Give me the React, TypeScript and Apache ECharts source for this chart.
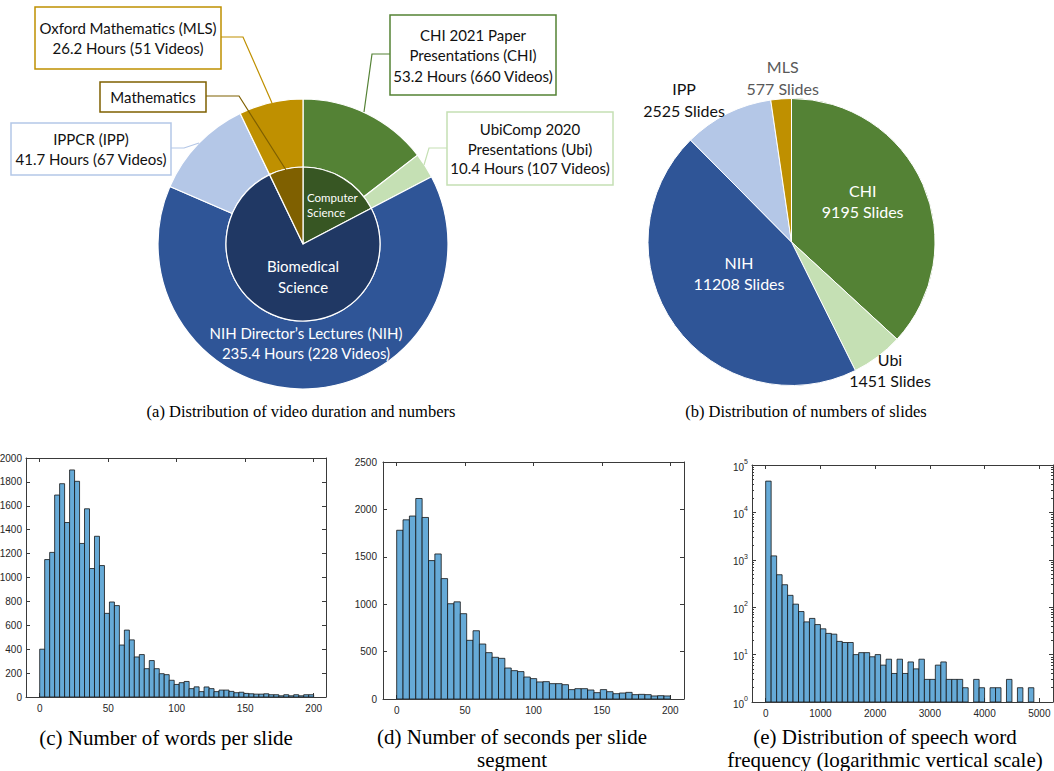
import React, { useEffect, useRef } from "react";
import * as echarts from "echarts";

// ---------- data ----------
const sourceNames = ["CHI", "Ubi", "NIH", "IPP", "MLS"];
const sourceHours = [53.2, 10.4, 235.4, 41.7, 26.2];
const sourceVideos = [660, 107, 228, 67, 51];
const sourceTitles = [
  "CHI 2021 Paper\nPresentations (CHI)",
  "UbiComp 2020\nPresentations (Ubi)",
  "NIH Director\u2019s Lectures (NIH)",
  "IPPCR (IPP)",
  "Oxford Mathematics (MLS)",
];
const sourceColors = ["#548235", "#C5E0B4", "#2F5597", "#B4C7E7", "#BF9000"];

const fieldNames = ["Computer\nScience", "Biomedical\nScience", "Mathematics"];
const fieldMembers = [["CHI", "Ubi"], ["NIH", "IPP"], ["MLS"]];
const fieldColors = ["#375623", "#203864", "#7F6000"];

const slideNames = ["CHI", "Ubi", "NIH", "IPP", "MLS"];
const slideCounts = [9195, 1451, 11208, 2525, 577];

const wordCounts = [
  400, 1150, 1210, 1690, 1785, 1460, 1900, 1805, 1285, 1575, 1075, 1345, 1100, 700, 795,
  765, 435, 560, 478, 335, 355, 237, 305, 237, 195, 187, 140, 105, 120, 130, 70, 85, 45,
  84, 70, 45, 58, 58, 47, 36, 40, 30, 27, 24, 24, 27, 19, 19, 10, 19, 10, 19, 10, 19, 19,
];
const wordBinWidth = 200 / 55;

const secondCounts = [
  1780, 1890, 1930, 2115, 1915, 1460, 1530, 1270, 1005, 1025, 900, 619, 720, 580, 489, 440,
  429, 327, 299, 289, 232, 215, 180, 183, 162, 162, 151, 99, 109, 109, 95, 67, 99, 77, 56,
  63, 70, 46, 49, 46, 32, 35, 32,
];
const secondBinWidth = 200 / 43;

const freqCounts = [
  45700, 1210, 484, 298, 178, 116, 81, 49, 58, 43, 35, 28, 27, 19, 18, 18, 10, 11, 11, 9,
  10, 6, 8, 4, 8, 4, 7, 5, 8, 3, 3, 6, 7, 3, 3, 3, 2, 0, 3, 2, 0, 2, 2, 0, 3, 0, 2, 0, 2,
];
const freqBinWidth = 100;

const histXTicks = [0, 50, 100, 150, 200];
const freqXTicks = [0, 1000, 2000, 3000, 4000, 5000];
const freqMinorTicks = [
  2, 3, 4, 5, 6, 7, 8, 9, 20, 30, 40, 50, 60, 70, 80, 90, 200, 300, 400, 500, 600, 700, 800,
  900, 2000, 3000, 4000, 5000, 6000, 7000, 8000, 9000, 20000, 30000, 40000, 50000, 60000,
  70000, 80000, 90000,
];

const captions = [
  "(a) Distribution of video duration and numbers",
  "(b) Distribution of numbers of slides",
  "(c) Number of words per slide",
  "(d) Number of seconds per slide\nsegment",
  "(e) Distribution of speech word\nfrequency (logarithmic vertical scale)",
];

// ---------- styles ----------
const CAL = 'Lato, "Open Sans", sans-serif';
const SANS = '"Liberation Sans", Arial, sans-serif';
const SERIF = '"Liberation Serif", "Times New Roman", serif';
const axisColor = "#3a3a3a";
const barFill = "#66AAD7";
const plain = (v: number) => String(v);

function xAx(grid: number, min: number, max: number, ticks: number[], pos: string, showLabel: boolean) {
  return {
    type: "value",
    gridIndex: grid,
    position: pos,
    min,
    max,
    splitLine: { show: false },
    axisLine: { show: true, onZero: false, lineStyle: { color: axisColor, width: 1 } },
    axisTick: { show: true, inside: true, length: 4, customValues: ticks, lineStyle: { color: axisColor } },
    axisLabel: {
      show: showLabel,
      customValues: ticks,
      formatter: plain,
      margin: 6,
      color: "#262626",
      fontSize: 10,
      fontFamily: SANS,
    },
  };
}

function yAx(grid: number, min: number, max: number, interval: number, pos: string, showLabel: boolean, margin: number) {
  return {
    type: "value",
    gridIndex: grid,
    position: pos,
    min,
    max,
    interval,
    splitLine: { show: false },
    axisLine: { show: true, onZero: false, lineStyle: { color: axisColor, width: 1 } },
    axisTick: { show: true, inside: true, length: 4, lineStyle: { color: axisColor } },
    axisLabel: { show: showLabel, formatter: plain, margin, color: "#262626", fontSize: 10, fontFamily: SANS },
  };
}

function logAx(pos: string, showLabel: boolean) {
  return {
    type: "log",
    logBase: 10,
    gridIndex: 2,
    position: pos,
    min: 1,
    max: 100000,
    splitLine: { show: false },
    axisLine: { show: true, onZero: false, lineStyle: { color: axisColor, width: 1 } },
    axisTick: { show: true, inside: true, length: 4, lineStyle: { color: axisColor } },
    axisLabel: {
      show: showLabel,
      margin: 4,
      formatter: (v: number) => `{b|10}{s|${Math.round(Math.log10(v))}}`,
      rich: {
        b: { fontSize: 10, fontFamily: SANS, color: "#262626", lineHeight: 14, verticalAlign: "bottom" },
        s: { fontSize: 7, fontFamily: SANS, color: "#262626", lineHeight: 14, verticalAlign: "top" },
      },
    },
  };
}

// minor ticks of the log axis, drawn on a linear exponent axis (0..5 decades)
function logMinorAx(pos: string) {
  return {
    type: "value",
    gridIndex: 2,
    position: pos,
    min: 0,
    max: 5,
    splitLine: { show: false },
    axisLine: { show: false, onZero: false },
    axisTick: {
      show: true,
      inside: true,
      length: 2,
      customValues: freqMinorTicks.map((v) => Math.log10(v)),
      lineStyle: { color: axisColor },
    },
    axisLabel: { show: false },
  };
}

function hist(counts: number[], width: number, idx: number, base: number) {
  return {
    type: "custom",
    xAxisIndex: idx,
    yAxisIndex: idx,
    silent: true,
    clip: true,
    data: counts.map((c, i) => [i * width, (i + 1) * width, c]),
    encode: { x: [0, 1], y: 2 },
    renderItem: (_params: any, api: any) => {
      const v = api.value(2);
      if (!(v > 0)) return { type: "group", children: [] };
      const a = api.coord([api.value(0), v]);
      const b = api.coord([api.value(1), base]);
      return {
        type: "rect",
        shape: { x: a[0], y: a[1], width: b[0] - a[0], height: b[1] - a[1] },
        style: { fill: barFill, stroke: "#141414", lineWidth: 0.8 },
      };
    },
  };
}

function txt(text: string, x: number, y: number, size: number, lh: number, fill: string, family = CAL, align = "center") {
  return {
    type: "text",
    x,
    y,
    z: 100,
    silent: true,
    style: {
      text,
      fill,
      fontSize: size,
      fontFamily: family,
      lineHeight: lh,
      align,
      textAlign: align,
      verticalAlign: "middle",
      textVerticalAlign: "middle",
    },
  };
}

function callout(i: number, box: number[], line: number[][], lh: number) {
  const text = `${sourceTitles[i]}\n${sourceHours[i]} Hours (${sourceVideos[i]} Videos)`;
  return [
    {
      type: "polyline",
      z: 90,
      silent: true,
      shape: { points: line },
      style: { stroke: sourceColors[i], lineWidth: 1.2, fill: null },
    },
    {
      type: "rect",
      z: 95,
      silent: true,
      shape: { x: box[0], y: box[1], width: box[2], height: box[3] },
      style: { fill: "#fff", stroke: sourceColors[i], lineWidth: 1.5 },
    },
    txt(text, box[0] + box[2] / 2, box[1] + box[3] / 2, 15, lh, "#111"),
  ];
}

export default function App() {
  const ref = useRef<HTMLDivElement>(null);
  useEffect(() => {
    document.body.style.margin = "0";
    if (!ref.current) return;
    const chart = echarts.init(ref.current, null, { renderer: "svg" });

    const outerData = sourceNames.map((n, i) => ({
      name: n,
      value: sourceHours[i],
      itemStyle: { color: sourceColors[i] },
    }));
    const innerData = fieldNames.map((n, i) => ({
      name: n,
      value: fieldMembers[i].reduce((s, m) => s + sourceHours[sourceNames.indexOf(m)], 0),
      itemStyle: { color: fieldColors[i] },
    }));
    const slideData = slideNames.map((n, i) => ({
      name: n,
      value: slideCounts[i],
      itemStyle: { color: sourceColors[sourceNames.indexOf(n)] },
    }));

    const slideLabel = (n: string) => `${n}\n${slideCounts[slideNames.indexOf(n)]} Slides`;
    const nihIdx = sourceNames.indexOf("NIH");
    const mathIdx = fieldNames.indexOf("Mathematics");

    const option: any = {
      animation: false,
      grid: [
        { left: 26, top: 458, width: 300, height: 239, outerBoundsMode: "none", containLabel: false },
        { left: 383, top: 462, width: 301, height: 237, outerBoundsMode: "none", containLabel: false },
        { left: 752, top: 465, width: 301, height: 237, outerBoundsMode: "none", containLabel: false },
      ],
      xAxis: [
        xAx(0, -10, 209, histXTicks, "bottom", true),
        xAx(1, -10, 210, histXTicks, "bottom", true),
        xAx(2, -250, 5250, freqXTicks, "bottom", true),
        xAx(0, -10, 209, histXTicks, "top", false),
        xAx(1, -10, 210, histXTicks, "top", false),
        xAx(2, -250, 5250, freqXTicks, "top", false),
      ],
      yAxis: [
        yAx(0, 0, 2000, 200, "left", true, 4),
        yAx(1, 0, 2500, 500, "left", true, 6),
        logAx("left", true),
        yAx(0, 0, 2000, 200, "right", false, 4),
        yAx(1, 0, 2500, 500, "right", false, 4),
        logAx("right", false),
        logMinorAx("left"),
        logMinorAx("right"),
      ],
      series: [
        {
          type: "pie",
          silent: true,
          center: [303, 244],
          radius: [77, 145],
          startAngle: 90,
          clockwise: true,
          label: { show: false },
          labelLine: { show: false },
          itemStyle: { borderColor: "#fff", borderWidth: 1.2 },
          data: outerData,
        },
        {
          type: "pie",
          silent: true,
          center: [303, 244],
          radius: [0, 77],
          startAngle: 90,
          clockwise: true,
          label: { show: false },
          labelLine: { show: false },
          itemStyle: { borderColor: "#fff", borderWidth: 1.2 },
          data: innerData,
        },
        {
          type: "pie",
          silent: true,
          center: [791.5, 242],
          radius: [0, 143.5],
          startAngle: 90,
          clockwise: true,
          label: { show: false },
          labelLine: { show: false },
          itemStyle: { borderColor: "#fff", borderWidth: 1 },
          data: slideData,
        },
        hist(wordCounts, wordBinWidth, 0, 0),
        hist(secondCounts, secondBinWidth, 1, 0),
        hist(freqCounts, freqBinWidth, 2, 1),
      ],
      graphic: [
        // (a) callouts
        ...callout(sourceNames.indexOf("MLS"), [35, 7, 186, 62], [[221, 37], [243, 37], [272, 103]], 20.5),
        {
          type: "polyline",
          z: 90,
          silent: true,
          shape: { points: [[206, 96], [239, 96], [286, 170]] },
          style: { stroke: fieldColors[mathIdx], lineWidth: 1.2, fill: null },
        },
        {
          type: "rect",
          z: 95,
          silent: true,
          shape: { x: 100, y: 82, width: 106, height: 30 },
          style: { fill: "#fff", stroke: fieldColors[mathIdx], lineWidth: 1.5 },
        },
        txt(fieldNames[mathIdx], 153, 97, 15, 20, "#111"),
        ...callout(sourceNames.indexOf("IPP"), [11, 123, 160, 52], [[171, 148], [184, 148], [199, 143]], 20),
        ...callout(sourceNames.indexOf("CHI"), [390, 15, 166, 80], [[390, 54], [372, 54], [364, 112]], 20.5),
        ...callout(sourceNames.indexOf("Ubi"), [447, 112, 166, 73], [[447, 148], [429, 148], [424, 165]], 19.5),
        // (a) inside labels
        txt(fieldNames[0], 307, 205, 11.5, 15.5, "#fff", CAL, "left"),
        txt(fieldNames[1], 303, 276, 15, 21, "#fff"),
        txt(`${sourceTitles[nihIdx]}\n${sourceHours[nihIdx]} Hours (${sourceVideos[nihIdx]} Videos)`, 306, 343, 15, 20, "#fff"),
        // (b) labels
        txt(slideLabel("CHI"), 862.7, 201, 16, 21.5, "#fff"),
        txt(slideLabel("NIH"), 739, 273, 16, 21.5, "#fff"),
        txt(slideLabel("Ubi"), 890, 370, 16, 21.5, "#111"),
        txt(slideLabel("IPP"), 684, 99.5, 16, 21.5, "#111"),
        txt(slideLabel("MLS"), 782.7, 77.7, 16, 21.5, "#595959"),
        // captions
        txt(captions[0], 301, 411, 16.5, 24, "#000", SERIF),
        txt(captions[1], 806, 411, 16.5, 24, "#000", SERIF),
        txt(captions[2], 166, 738, 21, 24, "#000", SERIF),
        txt(captions[3], 512, 748, 21, 23, "#000", SERIF),
        txt(captions[4], 885, 748, 21, 23, "#000", SERIF),
      ],
    };

    chart.setOption(option);
    return () => chart.dispose();
  }, []);

  return <div ref={ref} style={{ width: 1054, height: 771 }} />;
}
